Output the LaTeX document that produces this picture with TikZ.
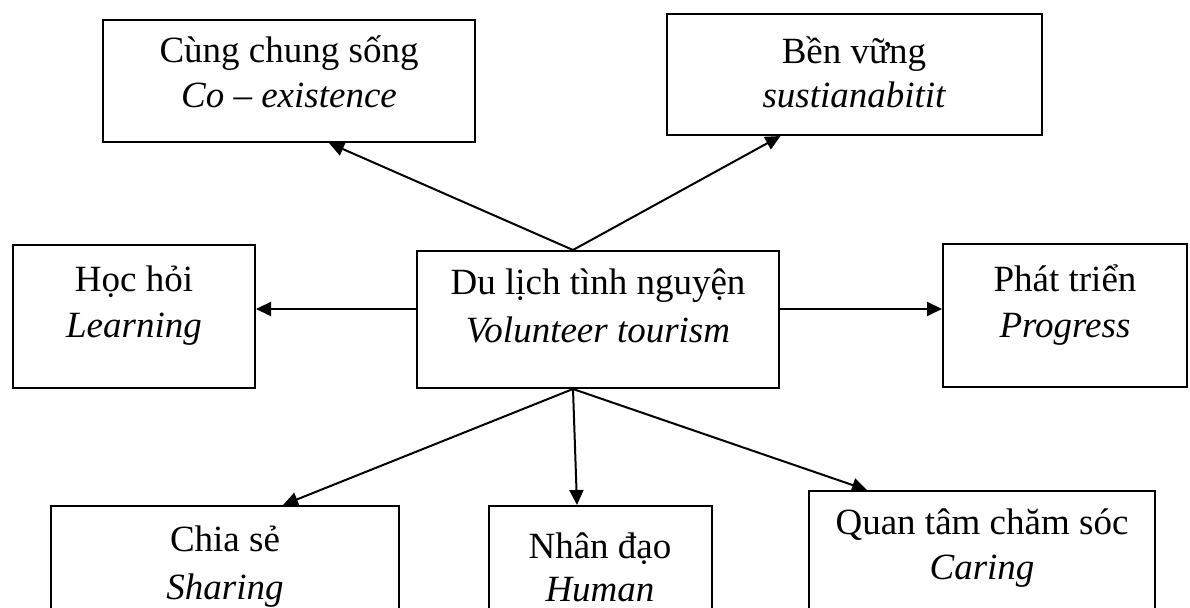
\documentclass[tikz,border=0pt]{standalone}
\usepackage{fontspec}
\setmainfont{Liberation Serif}
\usetikzlibrary{arrows.meta,fit,calc}
\begin{document}
\begin{tikzpicture}[x=0.5pt,y=-0.5pt,
  box/.style={draw=black,line width=1pt,inner sep=0pt,rectangle},
  tx/.style={anchor=base,inner sep=0pt,font=\fontsize{18.5pt}{24pt}\selectfont},
  txi/.style={anchor=base,inner sep=0pt,font=\fontsize{18.5pt}{24pt}\selectfont\itshape},
  arr/.style={line width=1pt,-{Triangle[length=7.5pt,width=7pt]}}]
\fill[white] (0,0) rectangle (1190,608);
\useasboundingbox (0,0) rectangle (1190,608);
\clip (0,0) rectangle (1190,608);
% boxes
\node[box,fit={(103,20) (475,142)}] (A) {};
\node[box,fit={(667,14) (1042,135)}] (B) {};
\node[box,fit={(13,245) (255,388)}] (L) {};
\node[box,fit={(417,251) (779,388)}] (C) {};
\node[box,fit={(943,244) (1187,387)}] (P) {};
\node[box,fit={(51,506) (399,650)}] (S) {};
\node[box,fit={(489,506) (712,650)}] (H) {};
\node[box,fit={(809,491) (1155,650)}] (Q) {};
% texts
\node[tx] (A1) at (289,63) {Cùng chung sống};
\node[txi] (A2) at (289,108) {Co – existence};
\node[tx] (B1) at (854,64) {Bền vững};
\node[txi] (B2) at (854,108) {sustianabitit};
\node[tx] (L1) at (134,292) {Học hỏi};
\node[txi] (L2) at (134,338) {Learning};
\node[tx] (C1) at (598,295) {Du lịch tình nguyện};
\node[txi] (C2) at (598,343) {Volunteer tourism};
\node[tx] (P1) at (1065,292) {Phát triển};
\node[txi] (P2) at (1065,338) {Progress};
\node[tx] (S1) at (225,552) {Chia sẻ};
\node[txi] (S2) at (225,600) {Sharing};
\node[tx] (H1) at (600,559) {Nhân đạo};
\node[txi] (H2) at (600,602) {Human};
\node[tx] (Q1) at (982,535) {Quan tâm chăm sóc};
\node[txi] (Q2) at (982,580) {Caring};
% connectors
\coordinate (ct) at ([xshift=-12.5pt]C.north);
\coordinate (cb) at ([xshift=-12.5pt]C.south);
\coordinate (lv) at (0,309);
\draw[arr] (ct) -- ([xshift=20pt]A.south);
\draw[arr] (ct) -- ([xshift=-37pt]B.south);
\draw[arr] (C.west |- lv) -- (L.east |- lv);
\draw[arr] (C.east |- lv) -- (P.west |- lv);
\draw[arr] (cb) -- ([xshift=29pt]S.north);
\draw[arr] (cb) -- ([xshift=-11.75pt]H.north);
\draw[arr] (cb) -- ([xshift=-57.5pt]Q.north);
\end{tikzpicture}
\end{document}
